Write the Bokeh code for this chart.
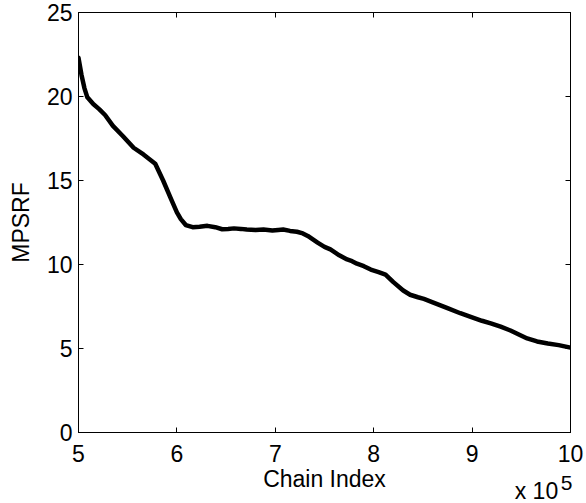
from bokeh.plotting import figure
from bokeh.models import LinearAxis, FixedTicker, Range1d
from bokeh.embed import file_html
from bokeh.resources import INLINE

chain_index = [5.00, 5.03, 5.06, 5.09, 5.15, 5.21, 5.27, 5.35, 5.45, 5.56, 5.66, 5.78,
               5.86, 5.94, 6.00, 6.04, 6.09, 6.16, 6.23, 6.31, 6.39, 6.46, 6.52, 6.58,
               6.65, 6.71, 6.80, 6.88, 6.97, 7.03, 7.08, 7.15, 7.22, 7.28, 7.33, 7.43,
               7.50, 7.56, 7.65, 7.73, 7.78, 7.83, 7.90, 7.97, 8.05, 8.12, 8.20, 8.30,
               8.37, 8.45, 8.51, 8.60, 8.75, 8.88, 9.00, 9.10, 9.19, 9.29, 9.39, 9.48,
               9.56, 9.66, 9.77, 9.88, 10.00]
mpsrf = [22.3, 21.3, 20.5, 19.95, 19.55, 19.25, 18.9, 18.25, 17.65, 16.95, 16.55, 16.0,
         15.0, 13.9, 13.1, 12.7, 12.35, 12.22, 12.25, 12.3, 12.22, 12.1, 12.12, 12.15,
         12.12, 12.08, 12.05, 12.08, 12.02, 12.06, 12.08, 12.0, 11.95, 11.85, 11.7, 11.3,
         11.05, 10.9, 10.55, 10.3, 10.2, 10.05, 9.9, 9.7, 9.55, 9.4, 8.95, 8.45,
         8.2, 8.05, 7.95, 7.75, 7.4, 7.1, 6.85, 6.65, 6.5, 6.3, 6.07, 5.82,
         5.6, 5.42, 5.3, 5.2, 5.05]

x_ticks = [5, 6, 7, 8, 9, 10]
y_ticks = [0, 5, 10, 15, 20, 25]
x_label = "Chain Index"
y_label = "MPSRF"
exp_base = "x 10"
exp_power = "5"
exp_base_at = 9.654   # centre of the "x 10" text along the x axis
exp_power_at = 9.96   # centre of the superscript

FONT = "Liberation Sans"
FS = "23px"

p = figure(width=586, height=503, output_backend="svg", toolbar_location=None,
           x_range=Range1d(5, 10), y_range=Range1d(0, 25),
           min_border_left=78, min_border_right=16, min_border_top=12, min_border_bottom=71,
           y_axis_label=y_label, x_axis_location=None)
p.background_fill_color = "white"
p.border_fill_color = "white"
p.outline_line_color = "black"
p.outline_line_width = 1
p.grid.visible = False

p.line(chain_index, mpsrf, line_color="black", line_width=4.5, line_join="round", line_cap="round")

def style(ax, ticks, labels=True, fs=FS):
    ax.ticker = FixedTicker(ticks=ticks)
    ax.major_tick_in = 5
    ax.major_tick_out = 0
    ax.minor_tick_line_color = None
    ax.axis_line_color = "black"
    ax.major_tick_line_color = "black"
    ax.major_label_text_font = FONT
    ax.major_label_text_font_size = fs
    ax.major_label_text_color = "black"
    ax.axis_label_text_font = FONT
    ax.axis_label_text_font_size = FS
    ax.axis_label_text_font_style = "normal"
    ax.axis_label_text_color = "black"
    if not labels:
        ax.major_label_overrides = {t: "" for t in ticks}
        ax.major_label_standoff = 0

# main bottom axis: ticks and tick labels
xa = LinearAxis()
style(xa, x_ticks)
xa.major_label_standoff = 12
p.add_layout(xa, "below")

# second bottom axis: "x 10" as tick label, "Chain Index" as axis label pulled up
xb = LinearAxis(axis_label=x_label)
style(xb, [exp_base_at])
xb.major_label_overrides = {exp_base_at: exp_base}
xb.axis_line_color = None
xb.major_tick_line_color = None
xb.major_label_standoff = 13
xb.axis_label_standoff = -41
p.add_layout(xb, "below")

# third bottom axis: superscript
xc = LinearAxis()
style(xc, [exp_power_at], fs="21px")
xc.major_label_overrides = {exp_power_at: exp_power}
xc.axis_line_color = None
xc.major_tick_line_color = None
xc.major_label_standoff = -19
p.add_layout(xc, "below")

style(p.yaxis[0], y_ticks)
p.yaxis[0].major_label_standoff = 6
p.yaxis[0].axis_label_standoff = 10

top = LinearAxis()
style(top, x_ticks, labels=False)
p.add_layout(top, "above")
right = LinearAxis()
style(right, y_ticks, labels=False)
p.add_layout(right, "right")

open("out.html", "w").write(file_html(p, INLINE))
